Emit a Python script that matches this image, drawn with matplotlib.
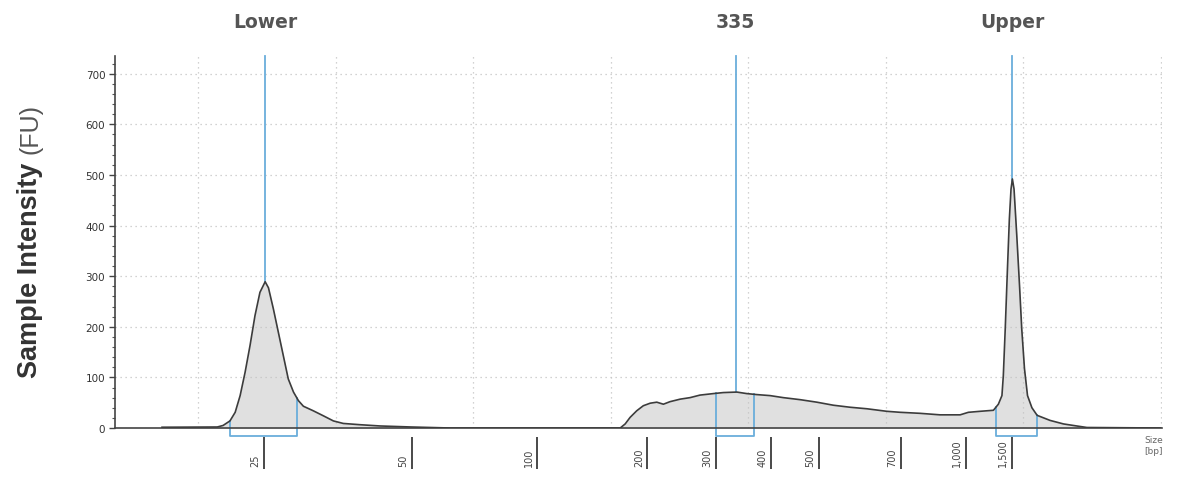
import numpy as np
import matplotlib
matplotlib.use("Agg")
import matplotlib.pyplot as plt

# ---------------- data ----------------
time_s = [18.69, 20.70, 20.91, 21.16, 21.35, 21.53, 21.71, 21.89, 22.07, 22.25, 22.44,
          22.56, 22.74, 22.92, 23.10, 23.28, 23.47, 23.65, 23.83, 24.19, 24.56, 24.92,
          25.28, 25.89, 26.62, 27.75, 29.16, 35.35, 35.53, 35.71, 35.95, 36.19, 36.44,
          36.68, 36.92, 37.16, 37.53, 37.89, 38.25, 38.74, 39.10, 39.59, 39.95, 40.32,
          40.80, 41.28, 41.89, 42.50, 43.10, 43.71, 44.32, 45.04, 45.53, 46.25, 46.98,
          47.71, 48.01, 48.44, 48.92, 49.10, 49.23, 49.28, 49.35, 49.43, 49.50, 49.56,
          49.61, 49.67, 49.77, 49.87, 49.95, 50.05, 50.16, 50.32, 50.51, 50.98, 51.47,
          51.95, 52.32, 55.00]
intensity_fu = [1.5, 2.0, 5, 14, 31, 64, 110, 163, 222, 268, 289,
                277, 235, 189, 143, 97, 71, 54, 43, 34, 24, 14,
                9, 6.5, 4, 2, 0, 0, 8, 21, 34, 44, 49,
                51, 47, 52, 57, 60, 65, 68, 70, 71, 68, 66,
                64, 60, 56, 51, 45, 41, 38, 33, 31, 29, 26,
                26, 31, 33, 35, 47, 64, 103, 196, 314, 413, 472,
                492, 472, 380, 281, 196, 117, 64, 40, 25, 15, 8,
                4, 1, 0]

ladder_bp = ["25", "50", "100", "200", "300", "400", "500", "700", "1,000", "1,500"]
ladder_time = [22.40, 27.77, 32.33, 36.34, 38.83, 40.84, 42.58, 45.56, 47.92, 49.59]

peak_names = ["Lower", "335", "Upper"]
peak_time = [22.44, 39.55, 49.60]
region_start = [21.16, 38.83, 49.02]
region_end = [23.60, 40.22, 50.51]

y_ticks = [0, 100, 200, 300, 400, 500, 600, 700]
x_grid = [20, 25, 30, 35, 40, 45, 50, 55]

# ---------------- figure ----------------
W, H = 1185, 481
fig = plt.figure(figsize=(W / 100, H / 100), dpi=100)
ax = fig.add_axes([115 / W, 52 / H, 1047 / W, 372 / H])
ax.set_xlim(16.98, 55.05)
ax.set_ylim(0, 735)

t = np.array(time_s)
v = np.array(intensity_fu)

ax.fill_between(t, 0, v, color="#e0e0e0", zorder=1, lw=0)
ax.plot(t, v, color="#3c3c3c", lw=1.2, zorder=3)

# grid
ax.set_axisbelow("line")
ax.set_xticks(x_grid)
ax.set_xticklabels([])
ax.set_yticks(y_ticks)
ax.set_yticks(np.arange(0, 735, 20), minor=True)
ax.grid(True, which="major", color="#c4c4c4", lw=0.9, linestyle=(0, (1, 3)))
ax.tick_params(axis="x", length=0)
ax.tick_params(axis="y", which="major", length=4, width=1, color="#444444",
               labelsize=7.5, labelcolor="#333333", pad=3)
ax.tick_params(axis="y", which="minor", length=2.5, width=0.8, color="#555555")
for s in ["top", "right"]:
    ax.spines[s].set_visible(False)
ax.spines["left"].set_color("#444444")
ax.spines["left"].set_linewidth(1.2)
ax.spines["bottom"].set_color("#444444")
ax.spines["bottom"].set_linewidth(1.2)

trans = ax.get_xaxis_transform()
axh = 372.0
# peak marker lines and integration brackets
blue = "#6aaedb"
for name, pt, rs, re in zip(peak_names, peak_time, region_start, region_end):
    top_val = np.interp(pt, t, v)
    ax.plot([pt, pt], [top_val, 735], color=blue, lw=1.3, zorder=2, clip_on=False)
    hs = np.interp(rs, t, v)
    he = np.interp(re, t, v)
    yb = -8 / axh * 735
    ax.plot([rs, rs, re, re], [hs, yb, yb, he], color=blue, lw=1.3, zorder=2,
            clip_on=False)
    xf, _ = fig.transFigure.inverted().transform(ax.transData.transform((pt, 0)))
    fig.text(xf, 1 - 22 / H, name, ha="center", va="center", fontsize=13.5,
             family="DejaVu Sans", fontweight="bold", color="#555555")

# ladder ticks
ax.vlines(ladder_time, -9 / axh, -41 / axh, transform=trans, color="#3a3a3a",
          lw=1.3, clip_on=False)
for lab, lt in zip(ladder_bp, ladder_time):
    ax.annotate(lab, xy=(lt, -38 / axh), xycoords=trans, xytext=(-2.5, 0),
                textcoords="offset points", rotation=90, ha="right", va="bottom",
                fontsize=7, color="#444444")

fig.text(1163 / W, 1 - 436 / H, "Size\n[bp]", ha="right", va="top", fontsize=6.5,
         color="#666666", linespacing=1.3)

# y label
t1 = fig.text(30 / W, 1 - 378 / H, "Sample Intensity", rotation=90, ha="center",
              va="bottom", fontsize=19.5, fontweight="bold", family="Liberation Sans",
              color="#333333")
fig.canvas.draw()
bb = t1.get_window_extent()
fig.text(30 / W, (bb.y1 + 9) / H, "(FU)", rotation=90, ha="center", va="bottom",
         fontsize=18, family="Liberation Sans", color="#555555")

fig.savefig("out.png", dpi=100)
